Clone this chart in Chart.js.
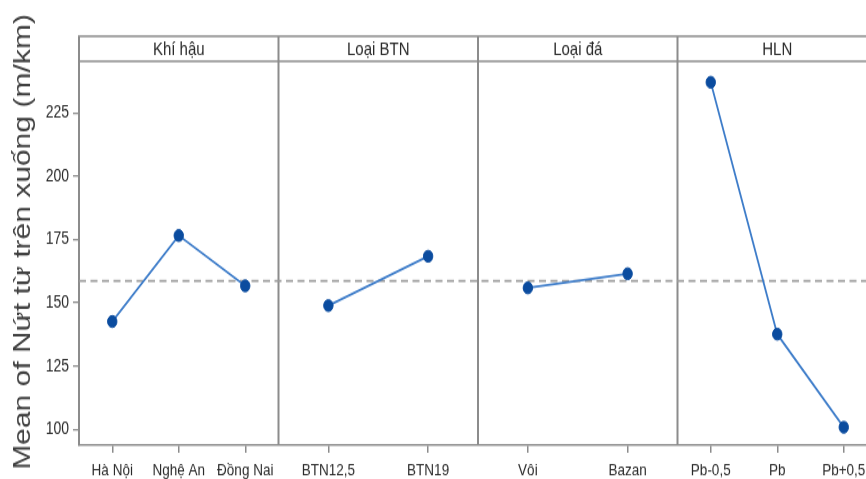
<!DOCTYPE html>
<html>
<head>
<meta charset="utf-8">
<script src="https://cdn.jsdelivr.net/npm/chart.js@4/dist/chart.umd.min.js"></script>
<style>
  html, body { margin: 0; padding: 0; background: #ffffff; overflow: hidden; }
  #wrap { width: 866px; height: 479px; overflow: hidden; position: relative; }
  #chart { position: absolute; left: 0; top: 0; transform-origin: 0 0; }
</style>
</head>
<body>
<div id="wrap"><canvas id="chart" width="890" height="383"></canvas></div>
<script>
// Main effects plot: mean crack length for each factor level
const factorNames = ['Khí hậu', 'Loại BTN', 'Loại đá', 'HLN'];

const khiHauLevels = ['Hà Nội', 'Nghệ An', 'Đồng Nai'];
const khiHauMeans = [142.6, 176.6, 156.7];

const loaiBtnLevels = ['BTN12,5', 'BTN19'];
const loaiBtnMeans = [148.9, 168.4];

const loaiDaLevels = ['Vôi', 'Bazan'];
const loaiDaMeans = [155.9, 161.5];

const hlnLevels = ['Pb-0,5', 'Pb', 'Pb+0,5'];
const hlnMeans = [237.2, 137.6, 100.8];

const overallMean = 158.6;
const yTickValues = [100, 125, 150, 175, 200, 225];
const yAxisTitle = 'Mean of Nứt từ trên xuống (m/km)';

// the plot is laid out on a shorter canvas and stretched vertically
const STRETCH = 479 / 383;
document.getElementById('chart').style.transform = 'scale(1,' + STRETCH + ')';

const panelLevels = [khiHauLevels, loaiBtnLevels, loaiDaLevels, hlnLevels];
const panelMeans = [khiHauMeans, loaiBtnMeans, loaiDaMeans, hlnMeans];

const FRAME = '#8c8c8c';
const LINE_BLUE = '#3d7cc9';
const DOT_BLUE = '#0b4c9f';
const TEXT = '#2a2a2a';
const FONT = '"Liberation Sans", Arial, sans-serif';

// each panel spans one unit on the x scale; levels are spread evenly inside it
const xTicks = [];
const datasets = [];
panelLevels.forEach((levels, p) => {
  const n = levels.length;
  const pts = levels.map((lab, i) => {
    const x = p + (i + 0.5) / n;
    xTicks.push({ pos: x, label: lab });
    return { x: x, y: panelMeans[p][i] };
  });
  datasets.push({
    label: factorNames[p],
    data: pts,
    borderColor: LINE_BLUE,
    borderWidth: 1.8,
    pointBackgroundColor: DOT_BLUE,
    pointBorderColor: DOT_BLUE,
    pointBorderWidth: 1,
    pointRadius: 4.7,
    pointStyle: 'circle',
    tension: 0,
    order: 1
  });
});

datasets.push({
  label: 'mean',
  data: [{ x: 0, y: overallMean }, { x: panelLevels.length, y: overallMean }],
  borderColor: '#9c9c9c',
  borderWidth: 1.8,
  borderDash: [7, 4.5],
  pointRadius: 0,
  order: 5
});

// header strip, panel dividers and the rotated y-axis title
const panelFrame = {
  id: 'panelFrame',
  beforeDatasetsDraw(chart) {
    const { ctx, chartArea, scales } = chart;
    const xs = scales.x;
    const headTop = chartArea.top - 20;
    ctx.save();
    ctx.strokeStyle = FRAME;
    // horizontal lines of header strip
    ctx.lineWidth = 1.6;
    ctx.beginPath();
    ctx.moveTo(chartArea.left - 1, headTop);
    ctx.lineTo(chartArea.right, headTop);
    ctx.moveTo(chartArea.left - 1, chartArea.top);
    ctx.lineTo(chartArea.right, chartArea.top);
    ctx.stroke();
    // vertical lines
    ctx.lineWidth = 2;
    ctx.beginPath();
    for (let k = 0; k <= panelLevels.length; k++) {
      const px = xs.getPixelForValue(k);
      ctx.moveTo(px, headTop);
      ctx.lineTo(px, k === 0 ? chartArea.top : chartArea.bottom);
    }
    ctx.stroke();
    // header text
    ctx.fillStyle = TEXT;
    ctx.font = '15px ' + FONT;
    ctx.textAlign = 'center';
    ctx.textBaseline = 'middle';
    factorNames.forEach((name, k) => {
      const cx = (xs.getPixelForValue(k) + xs.getPixelForValue(k + 1)) / 2;
      ctx.fillText(name, cx, (headTop + chartArea.top) / 2 + 1);
    });
    ctx.restore();
  },
  afterDraw(chart) {
    const { ctx } = chart;
    ctx.save();
    ctx.translate(23, 242 / STRETCH);
    ctx.rotate(-Math.PI / 2);
    ctx.fillStyle = '#404040';
    ctx.font = '24px ' + FONT;
    ctx.textAlign = 'center';
    ctx.textBaseline = 'middle';
    ctx.fillText(yAxisTitle, 0, 0);
    ctx.restore();
  }
};

new Chart(document.getElementById('chart'), {
  type: 'line',
  data: { datasets: datasets },
  options: {
    responsive: false,
    animation: false,
    layout: { padding: { top: 49, left: 0, right: 13, bottom: 0 } },
    plugins: { legend: { display: false }, tooltip: { enabled: false } },
    scales: {
      x: {
        type: 'linear',
        min: 0,
        max: panelLevels.length,
        afterBuildTicks: (s) => { s.ticks = xTicks.map(t => ({ value: t.pos })); },
        afterFit: (s) => { s.height = 27; },
        ticks: {
          autoSkip: false,
          maxRotation: 0,
          minRotation: 0,
          padding: 6,
          color: TEXT,
          font: { family: FONT, size: 13.5 },
          callback: (v, i) => xTicks[i].label
        },
        grid: { drawOnChartArea: false, tickLength: 6, color: FRAME, lineWidth: 1.5 },
        border: { color: FRAME, width: 1.6 }
      },
      y: {
        min: 93.67,
        max: 245.5,
        afterBuildTicks: (s) => { s.ticks = yTickValues.map(v => ({ value: v })); },
        afterFit: (s) => { s.width = 79; },
        ticks: {
          padding: 4,
          color: TEXT,
          font: { family: FONT, size: 14 },
          callback: (v) => String(v)
        },
        grid: { drawOnChartArea: false, tickLength: 6, color: FRAME, lineWidth: 1.3 },
        border: { color: FRAME, width: 2 }
      }
    }
  },
  plugins: [panelFrame]
});
</script>
</body>
</html>
